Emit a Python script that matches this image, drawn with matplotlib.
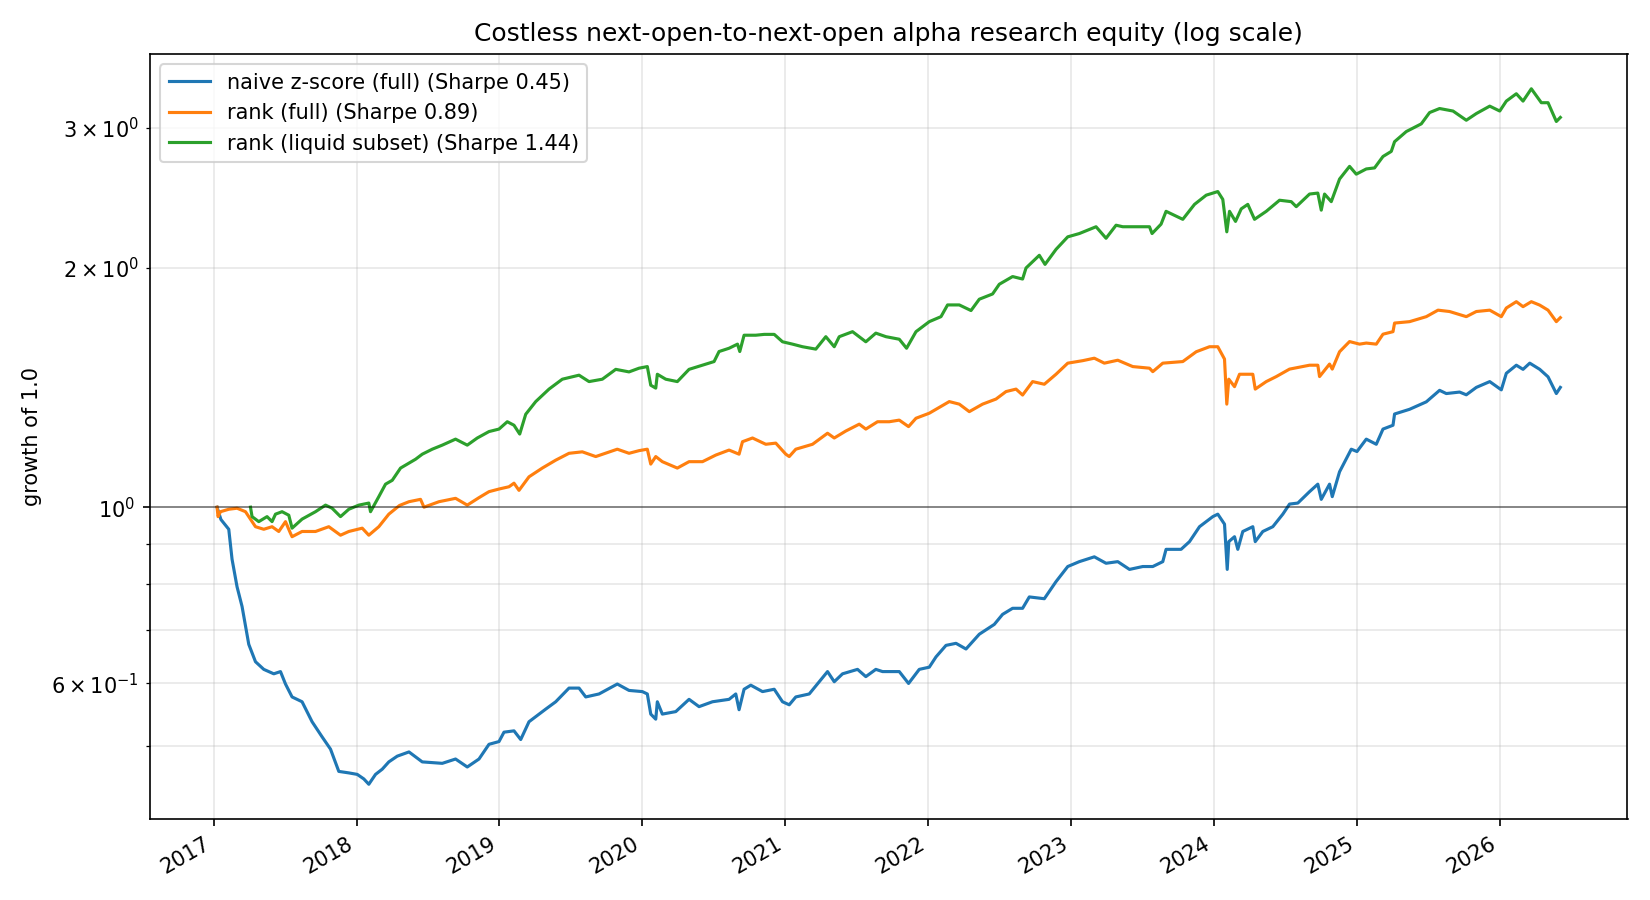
import numpy as np
import pandas as pd
import matplotlib
matplotlib.use("Agg")
import matplotlib.pyplot as plt

START = pd.Timestamp("2017-01-01")

# ===== equity curves (t = years since 2017-01-01) =====
zscore_t = [0.023, 0.05, 0.105, 0.128, 0.163, 0.198, 0.245, 0.292, 0.350, 0.420,
            0.467, 0.502, 0.548, 0.618, 0.688, 0.758, 0.817, 0.875, 0.945, 1.004,
            1.050, 1.085, 1.132, 1.179, 1.225, 1.284, 1.366, 1.459, 1.599, 1.692,
            1.774, 1.856, 1.926, 1.996, 2.031, 2.101, 2.148, 2.206, 2.323, 2.393,
            2.486, 2.556, 2.603, 2.696, 2.824, 2.906, 2.999, 3.034, 3.058, 3.093,
            3.104, 3.139, 3.233, 3.326, 3.396, 3.490, 3.606, 3.653, 3.676, 3.711,
            3.758, 3.840, 3.922, 3.980, 4.027, 4.073, 4.167, 4.295, 4.342, 4.400,
            4.505, 4.563, 4.633, 4.680, 4.797, 4.862, 4.937, 5.007, 5.054, 5.124,
            5.194, 5.264, 5.357, 5.462, 5.520, 5.590, 5.660, 5.707, 5.812, 5.894,
            5.976, 6.057, 6.162, 6.244, 6.326, 6.408, 6.501, 6.571, 6.641, 6.664,
            6.769, 6.828, 6.898, 6.991, 7.026, 7.073, 7.092, 7.103, 7.143, 7.166,
            7.201, 7.271, 7.288, 7.341, 7.411, 7.481, 7.528, 7.586, 7.668, 7.726,
            7.750, 7.808, 7.827, 7.878, 7.960, 8.000, 8.065, 8.135, 8.182, 8.252,
            8.263, 8.368, 8.485, 8.578, 8.625, 8.718, 8.765, 8.835, 8.929, 9.010,
            9.045, 9.115, 9.162, 9.209, 9.279, 9.337, 9.395, 9.423]
zscore_eq = [1.0, 0.965, 0.938, 0.86, 0.794, 0.75, 0.672, 0.639, 0.625, 0.617,
             0.621, 0.599, 0.577, 0.569, 0.537, 0.514, 0.496, 0.465, 0.463, 0.461,
             0.455, 0.448, 0.461, 0.468, 0.478, 0.486, 0.492, 0.478, 0.476, 0.482,
             0.471, 0.482, 0.503, 0.507, 0.521, 0.523, 0.51, 0.537, 0.557, 0.569,
             0.592, 0.592, 0.577, 0.582, 0.599, 0.588, 0.586, 0.582, 0.549, 0.541,
             0.569, 0.549, 0.553, 0.573, 0.561, 0.569, 0.573, 0.582, 0.556, 0.59,
             0.597, 0.586, 0.59, 0.569, 0.564, 0.577, 0.582, 0.621, 0.603, 0.617,
             0.625, 0.612, 0.625, 0.621, 0.621, 0.60, 0.625, 0.629, 0.648, 0.67,
             0.674, 0.663, 0.692, 0.712, 0.733, 0.746, 0.746, 0.771, 0.767, 0.806,
             0.842, 0.854, 0.866, 0.85, 0.854, 0.835, 0.842, 0.842, 0.854, 0.885,
             0.885, 0.905, 0.945, 0.973, 0.98, 0.952, 0.835, 0.905, 0.918, 0.885,
             0.932, 0.945, 0.905, 0.932, 0.945, 0.98, 1.009, 1.012, 1.046, 1.069,
             1.023, 1.069, 1.031, 1.108, 1.183, 1.175, 1.218, 1.2, 1.254, 1.268,
             1.31, 1.328, 1.357, 1.403, 1.39, 1.396, 1.385, 1.415, 1.439, 1.405,
             1.474, 1.509, 1.491, 1.518, 1.491, 1.459, 1.39, 1.415]

rank_t = [0.023, 0.030, 0.047, 0.105, 0.163, 0.222, 0.257, 0.292, 0.350, 0.408,
          0.455, 0.502, 0.537, 0.548, 0.618, 0.712, 0.805, 0.887, 0.945, 1.039,
          1.085, 1.155, 1.225, 1.300, 1.366, 1.447, 1.471, 1.576, 1.692, 1.774,
          1.856, 1.926, 1.996, 2.066, 2.101, 2.136, 2.206, 2.299, 2.393, 2.486,
          2.579, 2.673, 2.824, 2.906, 2.976, 3.034, 3.058, 3.093, 3.139, 3.244,
          3.326, 3.420, 3.513, 3.606, 3.676, 3.700, 3.770, 3.863, 3.933, 4.003,
          4.027, 4.073, 4.190, 4.295, 4.342, 4.423, 4.517, 4.563, 4.645, 4.727,
          4.797, 4.862, 4.914, 5.007, 5.054, 5.147, 5.217, 5.287, 5.380, 5.474,
          5.544, 5.614, 5.660, 5.730, 5.812, 5.894, 5.976, 6.081, 6.162, 6.232,
          6.326, 6.431, 6.548, 6.571, 6.641, 6.781, 6.875, 6.968, 7.026, 7.073,
          7.089, 7.103, 7.143, 7.178, 7.271, 7.288, 7.365, 7.435, 7.528, 7.668,
          7.726, 7.738, 7.808, 7.827, 7.878, 7.948, 8.018, 8.065, 8.135, 8.182,
          8.252, 8.263, 8.368, 8.485, 8.567, 8.648, 8.765, 8.835, 8.929, 9.010,
          9.045, 9.115, 9.162, 9.220, 9.279, 9.337, 9.395, 9.423]
rank_eq = [1.0, 0.973, 0.987, 0.994, 0.997, 0.987, 0.966, 0.945, 0.938, 0.945,
           0.932, 0.959, 0.927, 0.918, 0.932, 0.932, 0.945, 0.922, 0.932, 0.941,
           0.922, 0.945, 0.98, 1.005, 1.016, 1.023, 1.0, 1.016, 1.026, 1.006,
           1.028, 1.046, 1.054, 1.061, 1.072, 1.05, 1.092, 1.12, 1.146, 1.169,
           1.174, 1.158, 1.183, 1.169, 1.178, 1.183, 1.133, 1.158, 1.141, 1.12,
           1.141, 1.141, 1.163, 1.18, 1.166, 1.209, 1.222, 1.2, 1.204, 1.166,
           1.158, 1.183, 1.2, 1.239, 1.222, 1.247, 1.272, 1.254, 1.281, 1.281,
           1.287, 1.263, 1.294, 1.313, 1.328, 1.358, 1.348, 1.319, 1.348, 1.368,
           1.398, 1.408, 1.384, 1.439, 1.428, 1.47, 1.518, 1.529, 1.54, 1.518,
           1.531, 1.503, 1.496, 1.481, 1.518, 1.525, 1.569, 1.592, 1.592, 1.536,
           1.348, 1.449, 1.418, 1.47, 1.47, 1.408, 1.439, 1.46, 1.492, 1.509,
           1.509, 1.46, 1.514, 1.492, 1.569, 1.616, 1.604, 1.609, 1.604, 1.651,
           1.663, 1.705, 1.712, 1.737, 1.77, 1.763, 1.737, 1.763, 1.77, 1.737,
           1.781, 1.814, 1.788, 1.814, 1.796, 1.77, 1.712, 1.732]

liquid_t = [0.257, 0.268, 0.315, 0.373, 0.408, 0.432, 0.478, 0.525, 0.548, 0.618,
            0.712, 0.782, 0.828, 0.887, 0.945, 1.015, 1.085, 1.097, 1.155, 1.202,
            1.249, 1.307, 1.412, 1.459, 1.529, 1.599, 1.692, 1.774, 1.844, 1.926,
            1.996, 2.054, 2.101, 2.141, 2.183, 2.253, 2.346, 2.439, 2.556, 2.626,
            2.719, 2.813, 2.906, 2.976, 3.034, 3.058, 3.093, 3.104, 3.163, 3.244,
            3.326, 3.420, 3.501, 3.536, 3.606, 3.665, 3.681, 3.711, 3.793, 3.852,
            3.922, 3.980, 4.050, 4.120, 4.213, 4.283, 4.342, 4.377, 4.470, 4.563,
            4.633, 4.704, 4.797, 4.848, 4.914, 5.007, 5.089, 5.135, 5.217, 5.299,
            5.357, 5.450, 5.497, 5.590, 5.660, 5.684, 5.777, 5.817, 5.894, 5.976,
            6.057, 6.174, 6.244, 6.314, 6.361, 6.454, 6.548, 6.566, 6.629, 6.664,
            6.781, 6.863, 6.945, 7.026, 7.061, 7.089, 7.108, 7.150, 7.190, 7.236,
            7.283, 7.365, 7.458, 7.540, 7.575, 7.668, 7.726, 7.750, 7.773, 7.820,
            7.878, 7.948, 7.995, 8.065, 8.123, 8.182, 8.240, 8.263, 8.345, 8.450,
            8.508, 8.578, 8.672, 8.765, 8.835, 8.929, 8.999, 9.045, 9.115, 9.162,
            9.220, 9.290, 9.337, 9.395, 9.423]
liquid_eq = [1.0, 0.973, 0.959, 0.973, 0.959, 0.98, 0.987, 0.977, 0.941, 0.966,
             0.987, 1.006, 0.997, 0.973, 0.994, 1.006, 1.012, 0.987, 1.031, 1.069,
             1.081, 1.12, 1.149, 1.166, 1.183, 1.197, 1.218, 1.197, 1.222, 1.245,
             1.254, 1.281, 1.268, 1.236, 1.309, 1.358, 1.408, 1.449, 1.466, 1.439,
             1.449, 1.491, 1.48, 1.496, 1.503, 1.424, 1.412, 1.47, 1.449, 1.439,
             1.491, 1.509, 1.525, 1.57, 1.585, 1.604, 1.57, 1.646, 1.646, 1.65,
             1.65, 1.615, 1.604, 1.592, 1.581, 1.639, 1.592, 1.639, 1.663, 1.615,
             1.656, 1.639, 1.627, 1.585, 1.663, 1.712, 1.737, 1.797, 1.797, 1.768,
             1.827, 1.855, 1.908, 1.951, 1.937, 2.0, 2.075, 2.021, 2.111, 2.189,
             2.21, 2.254, 2.18, 2.264, 2.254, 2.254, 2.254, 2.21, 2.271, 2.357,
             2.303, 2.405, 2.47, 2.496, 2.44, 2.221, 2.357, 2.289, 2.374, 2.405,
             2.303, 2.357, 2.434, 2.424, 2.389, 2.478, 2.485, 2.365, 2.478, 2.424,
             2.588, 2.685, 2.625, 2.665, 2.673, 2.763, 2.804, 2.884, 2.97, 3.037,
             3.138, 3.175, 3.152, 3.069, 3.129, 3.197, 3.152, 3.244, 3.314, 3.244,
             3.362, 3.229, 3.229, 3.058, 3.094]

labels = ["naive z-score (full) (Sharpe 0.45)",
          "rank (full) (Sharpe 0.89)",
          "rank (liquid subset) (Sharpe 1.44)"]


def to_dates(t):
    # years since START -> timestamps
    return START + pd.to_timedelta(np.asarray(t) * 365.25, unit="D")


fig, ax = plt.subplots(figsize=(11, 6), dpi=150)
ax.plot(to_dates(zscore_t), zscore_eq, label=labels[0])
ax.plot(to_dates(rank_t), rank_eq, label=labels[1])
ax.plot(to_dates(liquid_t), liquid_eq, label=labels[2])
ax.axhline(1.0, color="black", linewidth=0.8, alpha=0.5)
ax.set_yscale("log")
ax.set_title("Costless next-open-to-next-open alpha research equity (log scale)")
ax.set_ylabel("growth of 1.0")
ax.grid(True, which="both", alpha=0.3)
ax.legend(loc="upper left")
fig.autofmt_xdate()
fig.tight_layout()
fig.savefig("out.png")
